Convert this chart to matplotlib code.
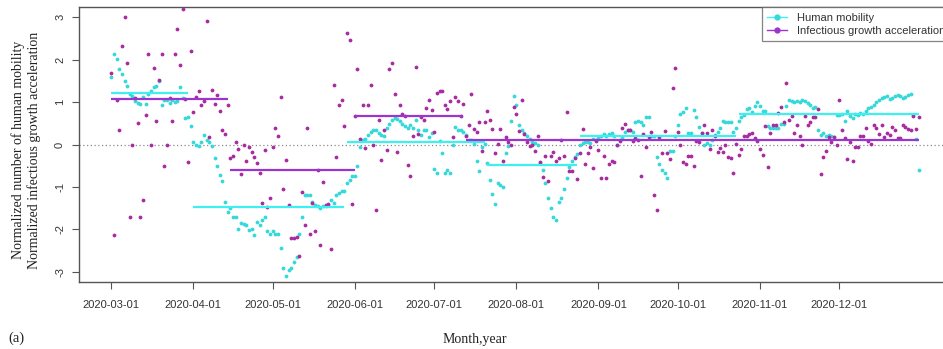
import matplotlib
matplotlib.use("Agg")
import matplotlib.pyplot as plt
import matplotlib.dates as mdates
from matplotlib.lines import Line2D
import pandas as pd
import numpy as np

# ---------------- data ----------------
start_date = "2020-03-01"

mob_mar = [1.58, 2.14, 2.02, 1.77, 1.67, 1.50, 1.38, 1.18, 1.14, 1.02,
           0.97, 0.95, 1.11, 0.95, 1.18, 1.26, 1.35, 1.37, 1.50, 0.93,
           1.05, 1.05, 0.97, 1.05, 1.00, 1.02, 1.35, 1.10, 0.62, 0.64, 0.43]
mob_apr = [0.06, -0.01, -0.04, 0.06, 0.22, 0.10, 0.05, -0.03, -0.32, -0.50,
           -0.72, -0.87, -1.35, -1.60, -1.50, -1.71, -1.71, -2.00, -1.86, -1.88,
           -1.89, -2.01, -2.00, -2.14, -1.83, -1.90, -1.78, -1.71, -2.04, -2.12]
mob_may = [-2.04, -2.10, -2.10, -2.45, -2.90, -3.10, -2.95, -2.90, -2.78, -2.65,
           -2.10, -1.72, -1.20, -1.20, -1.20, -1.35, -1.42, -1.44, -1.50, -1.46,
           -1.45, -1.42, -1.30, -1.37, -1.20, -1.15, -1.10, -1.10, -0.90, -0.83, -0.75]
mob_jun = [-0.75, -0.50, -0.07, 0.10, 0.13, 0.22, 0.30, 0.33, 0.33, 0.27,
           0.22, 0.20, 0.40, 0.49, 0.58, 0.63, 0.60, 0.55, 0.49, 0.43,
           0.38, 0.45, 0.40, 0.57, 0.33, 0.22, 0.35, 0.35, 0.18, 0.26]
mob_jul = [-0.57, -0.66, 0.08, -0.19, -0.67, -0.60, -0.68, 0.00, 0.41, 0.33,
           0.33, 0.30, 0.22, 0.10, 0.10, 0.02, -0.40, -0.63, -0.05, 0.02,
           -0.44, -0.83, -1.17, -1.41, -0.90, -0.95, -1.00, -0.20, -0.04, 0.55, 1.15]
mob_aug = [0.93, 0.46, 0.33, 0.28, 0.20, 0.12, 0.07, 0.03, -0.01, -0.43,
           -0.61, -0.90, -1.26, -1.50, -1.70, -1.77, -1.36, -1.26, -1.06, -0.78,
           -0.53, -0.38, -0.30, -0.22, -0.02, 0.04, 0.05, 0.07, 0.03, 0.12, 0.10]
mob_sep = [0.16, 0.20, 0.24, 0.20, 0.25, 0.27, 0.20, 0.00, 0.10, 0.17,
           0.30, 0.33, 0.34, 0.30, 0.52, 0.55, 0.52, 0.46, 0.65, 0.65,
           0.20, 0.20, -0.30, -0.45, -0.60, -0.68, -0.80, -0.16, -0.15, 0.20]
mob_oct = [0.45, 0.73, 0.77, 0.85, 0.28, 0.28, 0.82, 0.65, 0.41, 0.28,
           0.00, 0.03, 0.00, 0.10, 0.22, 0.30, 0.38, 0.56, 0.54, 0.54,
           0.52, 0.30, 0.40, 0.55, 0.65, 0.70, 0.83, 0.85, 0.77, 0.90, 1.00]
mob_nov = [0.90, 0.78, 0.80, 0.44, 0.38, 0.38, 0.38, 0.40, 0.49, 0.49,
           0.90, 1.05, 1.03, 1.00, 1.03, 1.00, 1.04, 1.02, 0.97, 0.94,
           0.87, 0.88, 0.33, 0.22, 0.26, 0.20, 0.22, 0.20, 0.18, 0.69]
mob_dec = [0.69, 0.73, 0.55, 0.80, 0.67, 0.62, 0.73, 0.70, 0.75, 0.73,
           0.78, 0.87, 0.89, 0.93, 1.00, 1.06, 1.10, 1.12, 1.15, 1.08,
           1.10, 1.15, 1.17, 1.15, 1.10, 1.12, 1.17, 1.19, 0.70, 0.14, -0.60]

inf_mar = [1.69, -2.13, 1.06, 0.35, 2.32, 3.00, 1.93, -1.70, 0.00, 1.10,
           0.51, -1.70, -1.31, 0.69, 2.13, 0.00, 1.81, 0.55, 1.51, 2.13,
           -0.50, 0.00, 1.10, 0.55, 2.13, 2.72, 1.87, 3.20, 1.08, -0.42, 2.20]
inf_apr = [0.76, 1.13, 1.26, 0.93, 1.02, 2.90, 0.17, 1.28, 0.95, 1.17,
           0.80, 0.33, 0.24, 0.92, -0.31, -0.28, 0.05, -0.10, -0.70, 0.00,
           -0.39, -0.05, -0.18, -0.30, -0.44, -0.68, -1.37, -0.13, -1.47, -1.25]
inf_may = [-0.05, 0.40, 0.19, 1.13, -1.05, -0.37, -1.42, -2.20, -2.20, -2.17,
           -2.62, -1.13, -1.90, 0.40, -2.10, -1.38, -2.05, -0.60, -2.37, -0.89,
           -1.43, -1.41, -2.47, 1.41, -0.30, 0.94, 1.06, 0.44, 2.62, 2.47, -1.40]
inf_jun = [0.66, 1.77, 0.12, 0.92, -0.08, 0.92, 1.41, 0.00, -1.54, 0.58,
           -0.37, 0.33, -0.13, 1.79, 1.93, 1.18, -0.18, 0.92, 0.72, 0.66,
           -0.48, -0.75, 0.20, 1.83, 0.24, 0.65, 0.58, 0.86, 1.04, 0.82]
inf_jul = [0.29, 1.21, 1.26, 1.26, 0.94, 0.84, 1.02, 0.17, 1.12, 1.02,
           0.68, 0.95, 0.20, 0.45, 1.20, 0.37, 0.29, 0.53, -0.16, 0.53,
           0.78, 0.57, 0.37, -0.20, 0.02, 0.37, -0.38, 0.17, 0.07, 0.00, 0.88]
inf_aug = [0.72, 0.31, 1.04, 0.24, 0.06, -0.04, -0.01, -0.16, 0.19, -0.42,
           -0.76, -0.26, -0.87, -0.26, -0.18, -0.38, -0.31, 0.10, -0.27, 0.77,
           -0.63, -0.63, -0.32, -0.81, -0.20, 0.37, -0.47, -0.20, -0.06, -0.55, 0.08]
inf_sep = [-0.12, -0.80, -0.26, -0.80, -0.47, -0.38, -0.42, 0.00, 0.09, 0.40,
           0.48, 0.33, 0.34, 0.08, 0.16, 0.11, -0.74, 0.25, -0.05, 0.17,
           0.29, -1.18, -1.54, 0.17, -0.19, 0.31, -0.19, -0.34, 1.33, 1.81]
inf_oct = [0.29, 0.00, -0.42, -0.46, -0.28, -0.28, -0.50, 0.09, 0.05, 0.27,
           0.47, 0.27, -0.10, 0.35, 0.20, -0.17, -0.08, -0.18, 0.00, -0.29,
           -0.31, -0.67, 0.02, -0.24, -0.10, 0.19, 0.20, 0.25, 0.27, 0.16, 0.09]
inf_nov = [-0.10, -0.24, 0.43, -0.52, 0.27, 0.45, 0.47, 0.74, 0.88, 0.53,
           1.45, 0.58, 0.68, 0.27, 0.45, 0.20, 0.00, 0.66, 0.47, 0.53,
           0.65, 0.65, 0.84, -0.70, -0.29, -0.16, 0.17, 0.05, 0.17, -0.02]
inf_dec = [1.04, 0.33, 0.16, -0.33, 0.05, -0.38, -0.05, -0.06, 0.20, 0.19,
           0.39, 0.09, 0.02, 0.47, 0.39, 0.25, 0.47, 0.17, 0.27, 0.23,
           0.41, 0.35, 0.16, 0.16, 0.45, 0.41, 0.37, 0.33, 0.66, 0.37, 0.64]

# piecewise mean levels (start, end, level)
mob_seg_start = ["2020-03-01", "2020-04-01", "2020-05-29", "2020-07-21", "2020-08-25", "2020-10-24"]
mob_seg_end   = ["2020-03-30", "2020-05-28", "2020-07-20", "2020-08-24", "2020-10-23", "2020-12-31"]
mob_seg_level = [1.21, -1.48, 0.05, -0.49, 0.21, 0.72]

inf_seg_start = ["2020-03-01", "2020-04-15", "2020-06-01", "2020-07-13"]
inf_seg_end   = ["2020-04-14", "2020-06-01", "2020-07-12", "2020-12-31"]
inf_seg_level = [1.08, -0.60, 0.66, 0.11]

tick_dates = ["2020-03-01", "2020-04-01", "2020-05-01", "2020-06-01", "2020-07-01",
              "2020-08-01", "2020-09-01", "2020-10-01", "2020-11-01", "2020-12-01"]
y_ticks = [-3, -2, -1, 0, 1, 2, 3]
series_names = ["Human mobility", "Infectious growth acceleration"]

# ---------------- build ----------------
mobility = mob_mar + mob_apr + mob_may + mob_jun + mob_jul + mob_aug + mob_sep + mob_oct + mob_nov + mob_dec
infection = inf_mar + inf_apr + inf_may + inf_jun + inf_jul + inf_aug + inf_sep + inf_oct + inf_nov + inf_dec
dates = pd.date_range(start_date, periods=len(mobility), freq="D")
dates_inf = pd.date_range(start_date, periods=len(infection), freq="D")

cyan_pt = "#36D8D8"
cyan_ln = "#3FF0F0"
purp_pt = "#A62C9F"
purp_ln = "#9B35D0"

SERIF = ["Liberation Serif", "DejaVu Serif"]
SANS = ["Liberation Sans", "DejaVu Sans"]
plt.rcParams["font.family"] = SANS

fig = plt.figure(figsize=(9.43, 3.49), dpi=100)
ax = fig.add_axes([79 / 943, 1 - 282 / 349, 872 / 943, 275 / 349])

ax.scatter(dates, mobility, s=7.5, color=cyan_pt, linewidths=0, zorder=3)
ax.scatter(dates_inf, infection, s=7.5, color=purp_pt, linewidths=0, zorder=3)

for s, e, v in zip(mob_seg_start, mob_seg_end, mob_seg_level):
    ax.plot([pd.Timestamp(s), pd.Timestamp(e)], [v, v], color=cyan_ln, lw=1.6, zorder=4,
            solid_capstyle="butt")
for s, e, v in zip(inf_seg_start, inf_seg_end, inf_seg_level):
    ax.plot([pd.Timestamp(s), pd.Timestamp(e)], [v, v], color=purp_ln, lw=1.6, zorder=4,
            solid_capstyle="butt")

ax.axhline(0, color="#8a8a8a", lw=0.9, linestyle=(0, (1, 2)), zorder=2)

pad = pd.Timedelta(days=12.2)
ax.set_xlim(dates[0] - pad, dates[-1] + pad)
ax.set_ylim(-3.24, 3.24)

ax.set_xticks([pd.Timestamp(t) for t in tick_dates])
ax.set_xticklabels(tick_dates)
ax.set_yticks(y_ticks)
ax.set_yticklabels([str(v) for v in y_ticks], rotation=90, va="center")

ax.tick_params(axis="both", direction="out", length=5, width=0.8, color="#555555",
               labelsize=8, labelcolor="#333333")
ax.tick_params(axis="x", pad=8)
ax.tick_params(axis="y", pad=5)
for sp in ax.spines.values():
    sp.set_color("#555555")
    sp.set_linewidth(1.0)

handles = [Line2D([0], [0], color=cyan_ln, lw=1.0, marker="o", markersize=3.5,
                  markerfacecolor=cyan_pt, markeredgecolor=cyan_pt),
           Line2D([0], [0], color=purp_ln, lw=1.0, marker="o", markersize=3.5,
                  markerfacecolor=purp_ln, markeredgecolor=purp_ln)]
leg = ax.legend(handles, series_names, loc="upper right", bbox_to_anchor=(1.0, 1.0),
                borderaxespad=0, frameon=True, fancybox=False, fontsize=8,
                handlelength=1.8, handletextpad=0.9, labelspacing=0.3, borderpad=0.5)
leg.get_frame().set_edgecolor("#666666")
leg.get_frame().set_linewidth(0.9)
for t in leg.get_texts():
    t.set_color("#333333")

fig.text(26 / 943, 1 - 150 / 349,
         "Normalized number of human mobility\nNormalized infectious growth acceleration",
         rotation=90, ha="center", va="center", fontsize=10, family=SERIF,
         linespacing=1.15, color="#222222")
fig.text(475 / 943, 1 - 340 / 349, "Month,year", ha="center", va="center",
         fontsize=10, family=SERIF, color="#222222")
fig.text(8 / 943, 1 - 338 / 349, "(a)", ha="left", va="center",
         fontsize=10.5, family=SERIF, color="#222222")

fig.savefig("out.png", dpi=100)
